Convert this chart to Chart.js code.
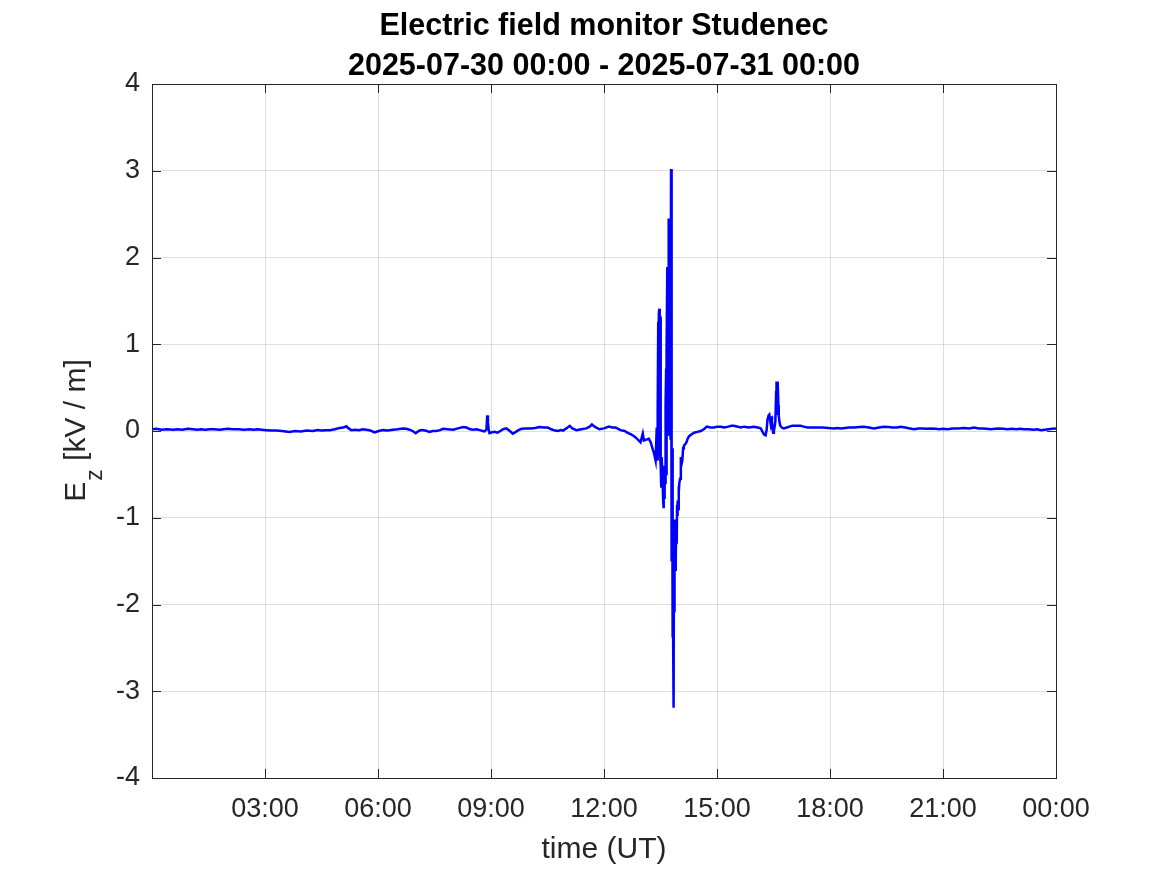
<!DOCTYPE html>
<html>
<head>
<meta charset="utf-8">
<script src="https://cdn.jsdelivr.net/npm/chart.js@4.4.1/dist/chart.umd.min.js"></script>
<style>
  html, body { margin: 0; padding: 0; background: #fff; }
  #wrap { width: 1167px; height: 875px; position: relative; }
</style>
</head>
<body>
<div id="wrap"><canvas id="efield"></canvas></div>
<script>
// Hora UT (horas desde 2025-07-30 00:00) y campo Ez en kV/m
// Tramo tranquilo de la mañana
const morningHours = [
  0.00, 0.12, 0.25, 0.40, 0.56, 0.68, 0.80, 0.95, 1.09, 1.20,
  1.30, 1.42, 1.53, 1.65, 1.80, 1.90, 2.02, 2.15, 2.30, 2.45,
  2.59, 2.70, 2.80, 2.92, 3.04, 3.15, 3.30, 3.45, 3.65, 3.80,
  3.95, 4.10, 4.27, 4.40, 4.50, 4.62, 4.72, 4.85, 4.98, 5.08,
  5.16, 5.22, 5.29, 5.40, 5.50, 5.60, 5.69, 5.80, 5.91, 6.02,
  6.13, 6.25, 6.40, 6.52, 6.66, 6.75, 6.84, 6.92, 7.00, 7.08,
  7.15, 7.25, 7.37, 7.45, 7.55, 7.65, 7.73, 7.85, 8.00, 8.12,
  8.26, 8.35, 8.45, 8.52, 8.62, 8.70, 8.78, 8.83, 8.88, 8.90,
  8.92, 8.94, 8.96, 9.03, 9.10, 9.17, 9.23, 9.32, 9.41, 9.50,
  9.58, 9.66, 9.73, 9.81, 9.92, 10.05, 10.17, 10.29, 10.40, 10.51,
  10.60, 10.70, 10.78, 10.85, 10.91, 11.00, 11.09, 11.16, 11.27, 11.40,
  11.53, 11.62, 11.68, 11.75, 11.88, 12.00, 12.13, 12.22, 12.31, 12.44,
  12.55, 12.62, 12.72, 12.80, 12.88, 12.97, 13.00, 13.03, 13.06, 13.12,
  13.19, 13.24, 13.28, 13.33, 13.35
];
const morningEz = [
  0.02, 0.025, 0.015, 0.02, 0.015, 0.02, 0.015, 0.025, 0.02, 0.015,
  0.02, 0.015, 0.02, 0.02, 0.015, 0.02, 0.025, 0.02, 0.02, 0.015,
  0.02, 0.015, 0.02, 0.015, 0.01, 0.005, 0.005, 0.0, -0.01, 0.0,
  -0.005, 0.005, 0.0, 0.01, 0.005, 0.01, 0.01, 0.02, 0.035, 0.04,
  0.055, 0.03, 0.01, 0.015, 0.01, 0.02, 0.015, 0.005, -0.015, 0.0,
  0.01, 0.005, 0.015, 0.02, 0.03, 0.025, 0.015, 0.0, -0.025, 0.0,
  0.01, 0.005, -0.01, 0.0, 0.0, 0.01, 0.025, 0.02, 0.015, 0.03,
  0.045, 0.04, 0.02, 0.015, 0.02, 0.01, 0.0, -0.005, 0.02, 0.18,
  0.10, 0.01, -0.025, -0.015, -0.01, -0.02, -0.005, 0.02, 0.03, 0.0,
  -0.03, -0.01, 0.01, 0.025, 0.03, 0.03, 0.035, 0.045, 0.04, 0.04,
  0.02, 0.005, 0.0, 0.01, 0.005, 0.03, 0.06, 0.03, 0.01, 0.02,
  0.03, 0.05, 0.075, 0.05, 0.02, 0.03, 0.05, 0.04, 0.04, 0.01,
  0.0, -0.02, -0.04, -0.06, -0.09, -0.13, -0.08, -0.03, -0.11, -0.10,
  -0.09, -0.13, -0.19, -0.26, -0.30
];
// Tormenta (oscilaciones rápidas)
const stormHours = [
  13.37, 13.40, 13.41, 13.42, 13.43, 13.44, 13.45, 13.46, 13.47, 13.48,
  13.49, 13.50, 13.51, 13.52, 13.53, 13.55, 13.57, 13.58, 13.59, 13.60,
  13.61, 13.62, 13.63, 13.64, 13.65, 13.655, 13.66, 13.67, 13.68, 13.685,
  13.69, 13.70, 13.71, 13.715, 13.72, 13.725, 13.73, 13.74, 13.75, 13.755,
  13.76, 13.765, 13.77, 13.775, 13.78, 13.785, 13.79, 13.795, 13.80, 13.805,
  13.81, 13.815, 13.82, 13.825, 13.83, 13.835, 13.84, 13.845, 13.85, 13.855,
  13.86, 13.865, 13.87, 13.875, 13.88, 13.89, 13.90, 13.91, 13.92, 13.93,
  13.94, 13.95, 13.96, 13.97, 13.98, 13.99, 14.00, 14.02, 14.04, 14.06,
  14.08, 14.10
];
const stormEz = [
  -0.34, 0.04, -0.30, -0.34, 0.20, 1.26, -0.20, 1.35, 1.41, -0.10,
  -0.26, 1.32, -0.40, -0.64, -0.30, -0.47, -0.80, -0.89, -0.70, -0.77,
  -0.40, -0.60, -0.55, 0.30, 0.72, -0.20, -0.51, 0.90, 1.89, 0.10,
  1.60, -0.04, 1.20, 0.20, 2.45, 0.40, 2.40, 0.15, 1.90, 0.26,
  2.00, -0.10, 1.87, 0.50, 3.02, -0.30, 3.02, -1.02, 0.68, -1.50,
  -0.20, -2.38, -1.00, -1.94, -1.20, -2.38, -1.30, -3.19, -1.50, -3.19,
  -1.02, -2.09, -1.10, -2.09, -1.23, -1.60, -1.23, -1.45, -1.10, -1.30,
  -0.85, -0.98, -0.80, -0.90, -0.64, -0.70, -0.60, -0.55, -0.30, -0.38,
  -0.34, -0.20
];
// Recuperación y tarde/noche
const eveningHours = [
  14.12, 14.16, 14.19, 14.22, 14.26, 14.32, 14.39, 14.48, 14.57, 14.65,
  14.73, 14.82, 14.92, 15.00, 15.10, 15.20, 15.30, 15.38, 15.45, 15.55,
  15.63, 15.72, 15.85, 15.98, 16.08, 16.16, 16.21, 16.25, 16.29, 16.32,
  16.34, 16.37, 16.39, 16.42, 16.44, 16.46, 16.47, 16.49, 16.51, 16.53,
  16.55, 16.57, 16.58, 16.60, 16.61, 16.63, 16.64, 16.66, 16.68, 16.72,
  16.77, 16.85, 16.92, 17.00, 17.10, 17.22, 17.30, 17.40, 17.52, 17.66,
  17.80, 17.95, 18.10, 18.20, 18.28, 18.40, 18.50, 18.65, 18.78, 18.90,
  19.03, 19.17, 19.30, 19.43, 19.55, 19.65, 19.78, 19.88, 20.00, 20.12,
  20.23, 20.35, 20.45, 20.57, 20.67, 20.80, 20.90, 21.00, 21.12, 21.25,
  21.40, 21.55, 21.70, 21.82, 21.95, 22.05, 22.15, 22.27, 22.38, 22.50,
  22.60, 22.71, 22.82, 22.95, 23.05, 23.15, 23.28, 23.40, 23.50, 23.60,
  23.70, 23.80, 23.90, 24.00
];
const eveningEz = [
  -0.17, -0.15, -0.13, -0.09, -0.06, -0.04, -0.02, -0.01, 0.0, 0.02,
  0.05, 0.04, 0.04, 0.05, 0.05, 0.04, 0.05, 0.06, 0.06, 0.05,
  0.04, 0.05, 0.04, 0.05, 0.04, 0.03, -0.01, -0.04, -0.05, 0.02,
  0.13, 0.18, 0.19, 0.10, 0.17, 0.02, 0.06, -0.02, 0.0, 0.05,
  0.11, 0.45, 0.57, 0.20, 0.57, 0.30, 0.17, 0.10, 0.06, 0.04,
  0.03, 0.04, 0.05, 0.06, 0.06, 0.06, 0.05, 0.04, 0.04, 0.04,
  0.04, 0.035, 0.03, 0.035, 0.03, 0.035, 0.04, 0.04, 0.045, 0.05,
  0.04, 0.03, 0.04, 0.05, 0.045, 0.04, 0.04, 0.05, 0.04, 0.03,
  0.02, 0.03, 0.03, 0.025, 0.03, 0.025, 0.02, 0.025, 0.02, 0.03,
  0.03, 0.035, 0.03, 0.04, 0.03, 0.03, 0.025, 0.02, 0.025, 0.03,
  0.025, 0.02, 0.025, 0.02, 0.025, 0.02, 0.02, 0.015, 0.02, 0.01,
  0.015, 0.02, 0.025, 0.03
];
const xTickHours = [0, 3, 6, 9, 12, 15, 18, 21, 24];
const titleLines = ['Electric field monitor Studenec', '2025-07-30 00:00 - 2025-07-31 00:00'];
const xTitle = 'time (UT)';

const timeHours = morningHours.concat(stormHours, eveningHours);
const ezValues = morningEz.concat(stormEz, eveningEz);

const ink = '#262626';
const fontFam = '"Liberation Sans", Arial, Helvetica, sans-serif';

// Marco tipo MATLAB: caja completa, ticks hacia dentro, títulos y etiqueta Ez
const matlabFrame = {
  id: 'matlabFrame',
  afterDraw(chart) {
    const { ctx, chartArea: a, scales } = chart;
    const tl = 9;
    ctx.save();
    ctx.strokeStyle = ink;
    ctx.lineWidth = 1;
    ctx.beginPath();
    scales.x.ticks.forEach(t => {
      const px = Math.round(scales.x.getPixelForValue(t.value)) + 0.5;
      ctx.moveTo(px, a.bottom); ctx.lineTo(px, a.bottom - tl);
      ctx.moveTo(px, a.top); ctx.lineTo(px, a.top + tl);
    });
    scales.y.ticks.forEach(t => {
      const py = Math.round(scales.y.getPixelForValue(t.value)) + 0.5;
      ctx.moveTo(a.left, py); ctx.lineTo(a.left + tl, py);
      ctx.moveTo(a.right, py); ctx.lineTo(a.right - tl, py);
    });
    ctx.stroke();
    ctx.strokeRect(Math.round(a.left) + 0.5, Math.round(a.top) + 0.5,
      Math.round(a.right - a.left), Math.round(a.bottom - a.top));

    const cx = (a.left + a.right) / 2;
    // título
    ctx.fillStyle = '#000';
    ctx.textAlign = 'center';
    ctx.textBaseline = 'alphabetic';
    ctx.font = 'bold 30.5px ' + fontFam;
    ctx.fillText(titleLines[0], cx, 35);
    ctx.fillText(titleLines[1], cx, 75);

    // título eje x
    ctx.fillStyle = ink;
    ctx.font = '30px ' + fontFam;
    ctx.fillText(xTitle, cx, 858);

    // etiqueta eje y: E_z [kV / m]
    const big = '30px ' + fontFam, small = '23px ' + fontFam;
    ctx.font = big; const wE = ctx.measureText('E').width;
    const wRest = ctx.measureText(' [kV / m]').width;
    ctx.font = small; const wz = ctx.measureText('z').width;
    const total = wE + wz + wRest;
    ctx.translate(85, (a.top + a.bottom) / 2);
    ctx.rotate(-Math.PI / 2);
    ctx.textAlign = 'left';
    const x0 = -total / 2;
    ctx.font = big; ctx.fillText('E', x0, 0);
    ctx.font = small; ctx.fillText('z', x0 + wE + 1, 17);
    ctx.font = big; ctx.fillText(' [kV / m]', x0 + wE + wz + 1, 0);
    ctx.restore();
  }
};

const points = timeHours.map((t, i) => ({ x: t, y: ezValues[i] }));

new Chart(document.getElementById('efield'), {
  type: 'line',
  data: {
    datasets: [{
      label: 'Ez',
      data: points,
      borderColor: '#0000ff',
      borderWidth: 2.5,
      pointRadius: 0,
      fill: false,
      tension: 0
    }]
  },
  options: {
    responsive: true,
    maintainAspectRatio: false,
    animation: false,
    layout: { padding: { top: 84, right: 111, left: 0, bottom: 0 } },
    plugins: {
      legend: { display: false },
      tooltip: { enabled: false }
    },
    scales: {
      x: {
        type: 'linear',
        min: 0,
        max: 24,
        afterFit: s => { s.height = 97; },
        afterBuildTicks: s => {
          s.ticks = xTickHours.map(v => ({ value: v }));
        },
        ticks: {
          autoSkip: false,
          maxRotation: 0,
          padding: 15,
          color: ink,
          font: { family: fontFam, size: 27 },
          callback: v => v === 0 ? '' : String(v % 24).padStart(2, '0') + ':00'
        },
        grid: { color: 'rgba(38,38,38,0.15)', drawTicks: false },
        border: { display: false }
      },
      y: {
        min: -4,
        max: 4,
        afterFit: s => { s.width = 152; },
        ticks: {
          stepSize: 1,
          padding: 12,
          color: ink,
          font: { family: fontFam, size: 27 },
          callback: v => String(v)
        },
        grid: { color: 'rgba(38,38,38,0.15)', drawTicks: false },
        border: { display: false }
      }
    }
  },
  plugins: [matlabFrame]
});
</script>
</body>
</html>
